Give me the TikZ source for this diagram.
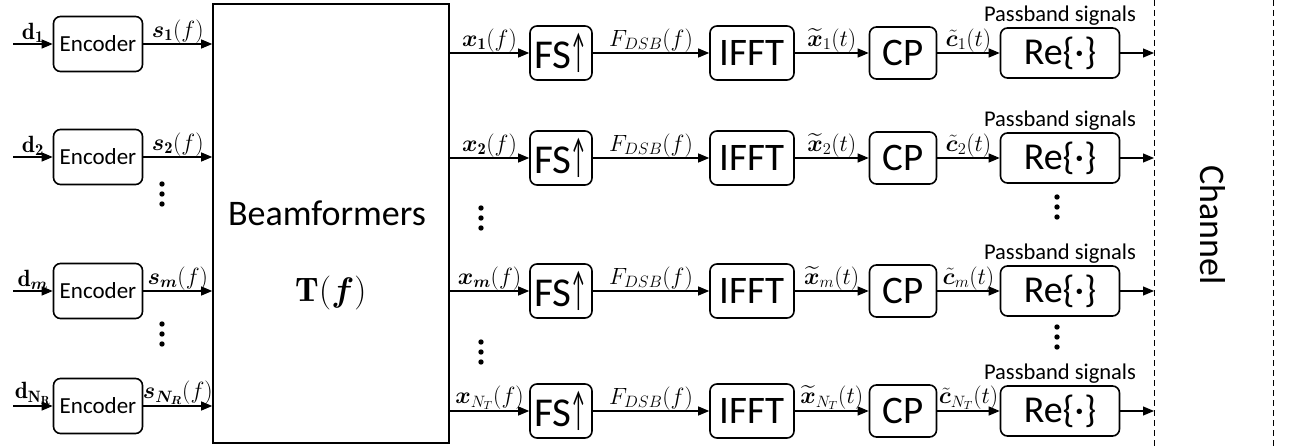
\RequirePackage{fix-cm}
\documentclass[tikz,border=0pt]{standalone}
\usepackage{amsmath}
\usepackage{bm}
\usepackage{graphicx}
\usepackage{fontspec}
\newfontfamily\carl{Carlito}
\usetikzlibrary{arrows.meta}
\begin{document}
\begin{tikzpicture}[x=1pt,y=-1pt,
  blk/.style={draw, line width=1.6pt, rounded corners=7pt, inner sep=0pt},
  enc/.style={blk, minimum width=89pt, minimum height=55pt, font=\carl\fontsize{23}{26}\selectfont},
  fsb/.style={blk, minimum width=62pt, minimum height=54pt, font=\carl\fontsize{41}{44}\selectfont},
  ifb/.style={blk, minimum width=84pt, minimum height=54pt, font=\carl\fontsize{39}{42}\selectfont},
  cpb/.style={blk, minimum width=67pt, minimum height=52pt, font=\carl\fontsize{39}{42}\selectfont},
  reb/.style={blk, minimum width=119pt, minimum height=50pt, font=\carl\fontsize{38}{42}\selectfont},
  arr/.style={-{Triangle[length=11pt,width=9pt]}, line width=1.1pt},
  lab/.style={font=\fontsize{23.5}{26}\selectfont, inner sep=0.5pt},
  pb/.style={font=\carl\fontsize{22.5}{25}\selectfont, inner sep=1.5pt, anchor=south},
  dotc/.style={fill=black},
]
\useasboundingbox (0,0) rectangle (1290,446);

% beamformer
\node[draw, line width=1.6pt, minimum width=236pt, minimum height=439pt, inner sep=0pt] (bf) at (331,223.5) {};
\node[font=\carl\fontsize{36}{40}\selectfont] (bft) at (327,213) {Beamformers};
\node[font=\fontsize{34}{38}\selectfont] (tf) at (331,293) {$\mathbf{T}(\bm{f})$};

% channel
\coordinate (cha) at (1154,0);
\coordinate (chb) at (1154,446);
\coordinate (chc) at (1273,0);
\coordinate (chd) at (1273,446);
\draw[dashed, line width=0.8pt, dash pattern=on 6pt off 4pt] (cha) -- (chb);
\draw[dashed, line width=0.8pt, dash pattern=on 6pt off 4pt] (chc) -- (chd);
\node[rotate=-90, font=\carl\fontsize{36}{40}\selectfont] (ch) at (1213,225) {Channel};

% encoder rows
\foreach \n/\ye/\d/\s in {
  1/44/{$\mathbf{d}_{\mathbf{1}}$}/{$\bm{s}_{\mathbf{1}}(f)$},
  2/157/{$\mathbf{d}_{\mathbf{2}}$}/{$\bm{s}_{\mathbf{2}}(f)$},
  m/291/{$\mathbf{d}_{\bm{m}}$}/{$\bm{s}_{\bm{m}}(f)$},
  N/406/{$\mathbf{d}_{\mathbf{N_R}}$}/{$\bm{s}_{\bm{N_R}}(f)$}}{
  \node[enc] (e\n) at (98,\ye) {Encoder};
  \coordinate (in\n) at (13,\ye);
  \draw[arr] (in\n) -- (e\n.west) node[midway, above, lab] {\d};
  \draw[arr] (e\n.east) -- (e\n.east -| bf.west) node[midway, above, lab] {\s};
}

% transmit rows
\foreach \n/\yr/\x/\xt/\c in {
  1/53/{$\bm{x}_{\mathbf{1}}(f)$}/{$\widetilde{\bm{x}}_{1}(t)$}/{$\tilde{\bm{c}}_{1}(t)$},
  2/158/{$\bm{x}_{\mathbf{2}}(f)$}/{$\widetilde{\bm{x}}_{2}(t)$}/{$\tilde{\bm{c}}_{2}(t)$},
  m/291/{$\bm{x}_{\bm{m}}(f)$}/{$\widetilde{\bm{x}}_{m}(t)$}/{$\tilde{\bm{c}}_{m}(t)$},
  N/411/{$\bm{x}_{N_T}(f)$}/{$\widetilde{\bm{x}}_{N_T}(t)$}/{$\tilde{\bm{c}}_{N_T}(t)$}}{
  \node[fsb] (fs\n) at (561,\yr) {FS\kern-1pt\raisebox{1pt}{\scalebox{0.45}[1.15]{↑}}};
  \node[ifb] (if\n) at (752,\yr) {IFFT};
  \node[cpb] (cp\n) at (903,\yr) {CP};
  \node[reb] (re\n) at (1060,\yr) {Re\{·\}};
  \node[pb] (pb\n) at (re\n.north) {Passband signals};
  \draw[arr] (bf.east |- fs\n.west) -- (fs\n.west) node[midway, above, lab] {\x};
  \draw[arr] (fs\n.east) -- (if\n.west) node[midway, above, lab] {$F_{DSB}(f)$};
  \draw[arr] (if\n.east) -- (cp\n.west) node[midway, above, lab] {\xt};
  \draw[arr] (cp\n.east) -- (re\n.west) node[midway, above, lab] {\c};
  \draw[arr] (re\n.east) -- (re\n.east -| cha);
}

% dots
\foreach \xx/\yy in {162/184, 162/324, 481/208, 481/342, 1057/197, 1057/327}{
  \foreach \k in {0,1,2}{
    \fill[dotc] (\xx,\yy+\k*10) circle (2.7pt);
  }
}
\end{tikzpicture}
\end{document}
